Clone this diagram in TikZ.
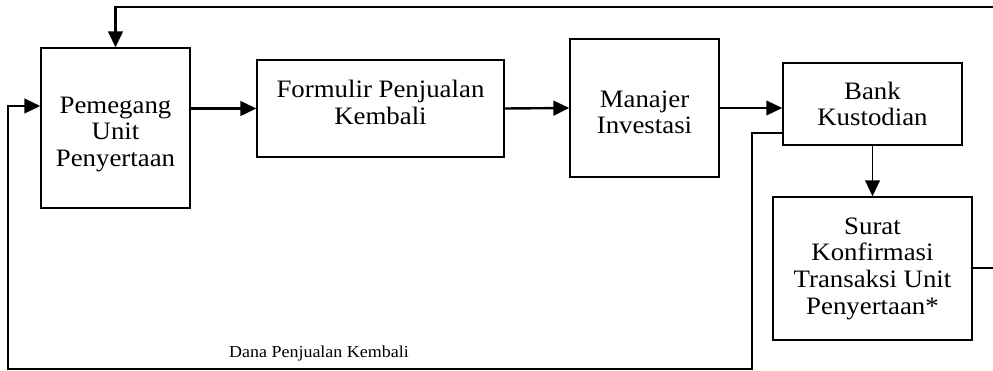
\documentclass[tikz,border=0pt]{standalone}
\usepackage{fontspec}
\setmainfont{Liberation Serif}[FakeStretch=1.07]
\usetikzlibrary{arrows.meta,calc}

\begin{document}
\begin{tikzpicture}[x=0.75pt,y=-0.75pt,
  box/.style={draw,line width=1pt,align=center,inner sep=0pt,font=\fontsize{18.8}{20}\selectfont},
  arr/.style={line width=1.8pt,-{Triangle[length=12pt,width=11pt]}}]
  \useasboundingbox (0,0) rectangle (993,371);
  \node[box,minimum width=111.75pt,minimum height=120pt] (peg) at (115.5,128) {\rule{0pt}{22pt}Pemegang\\Unit\\Penyertaan};
  \node[box,minimum width=185.25pt,minimum height=72.75pt] (form) at (380.5,108.5) {Formulir Penjualan\\Kembali\rule[-9pt]{0pt}{0pt}};
  \node[box,minimum width=111.75pt,minimum height=103.5pt] (man) at (644.5,108) {\rule{0pt}{19pt}Manajer\\Investasi};
  \node[box,minimum width=134.25pt,minimum height=61.5pt] (bank) at (872.5,104) {Bank\\Kustodian};
  \node[box,minimum width=149.25pt,minimum height=107.25pt] (surat) at (872.5,268.5) {Surat\\Konfirmasi\\Transaksi Unit\\Penyertaan*};
  \coordinate (topR) at (993,7);
  \coordinate (surR) at (993,268);
  \coordinate (down) at (752,369);
  \coordinate (left) at (8,369);
  % alur utama
  \draw[arr] (peg.east |- form.west) -- (form.west);
  \draw[arr] (form.east) -- (man.west);
  \draw[arr,line width=1.3pt] (man.east) -- (man.east -| bank.west);
  \draw[arr,line width=1.3pt] (bank.south) -- (surat.north);
  % balik ke pemegang
  \draw[arr] (topR) -| (peg.north);
  \draw[line width=1.1pt] (surat.east |- surR) -- (surR);
  \draw[arr,line width=1.5pt] ([yshift=-21.75pt]bank.west) -| (down) -- (left) |- ([yshift=16.5pt]peg.west);
  \node[font=\fontsize{12.6}{13}\selectfont] (dana) at (319,353) {Dana Penjualan Kembali};
\end{tikzpicture}
\end{document}
